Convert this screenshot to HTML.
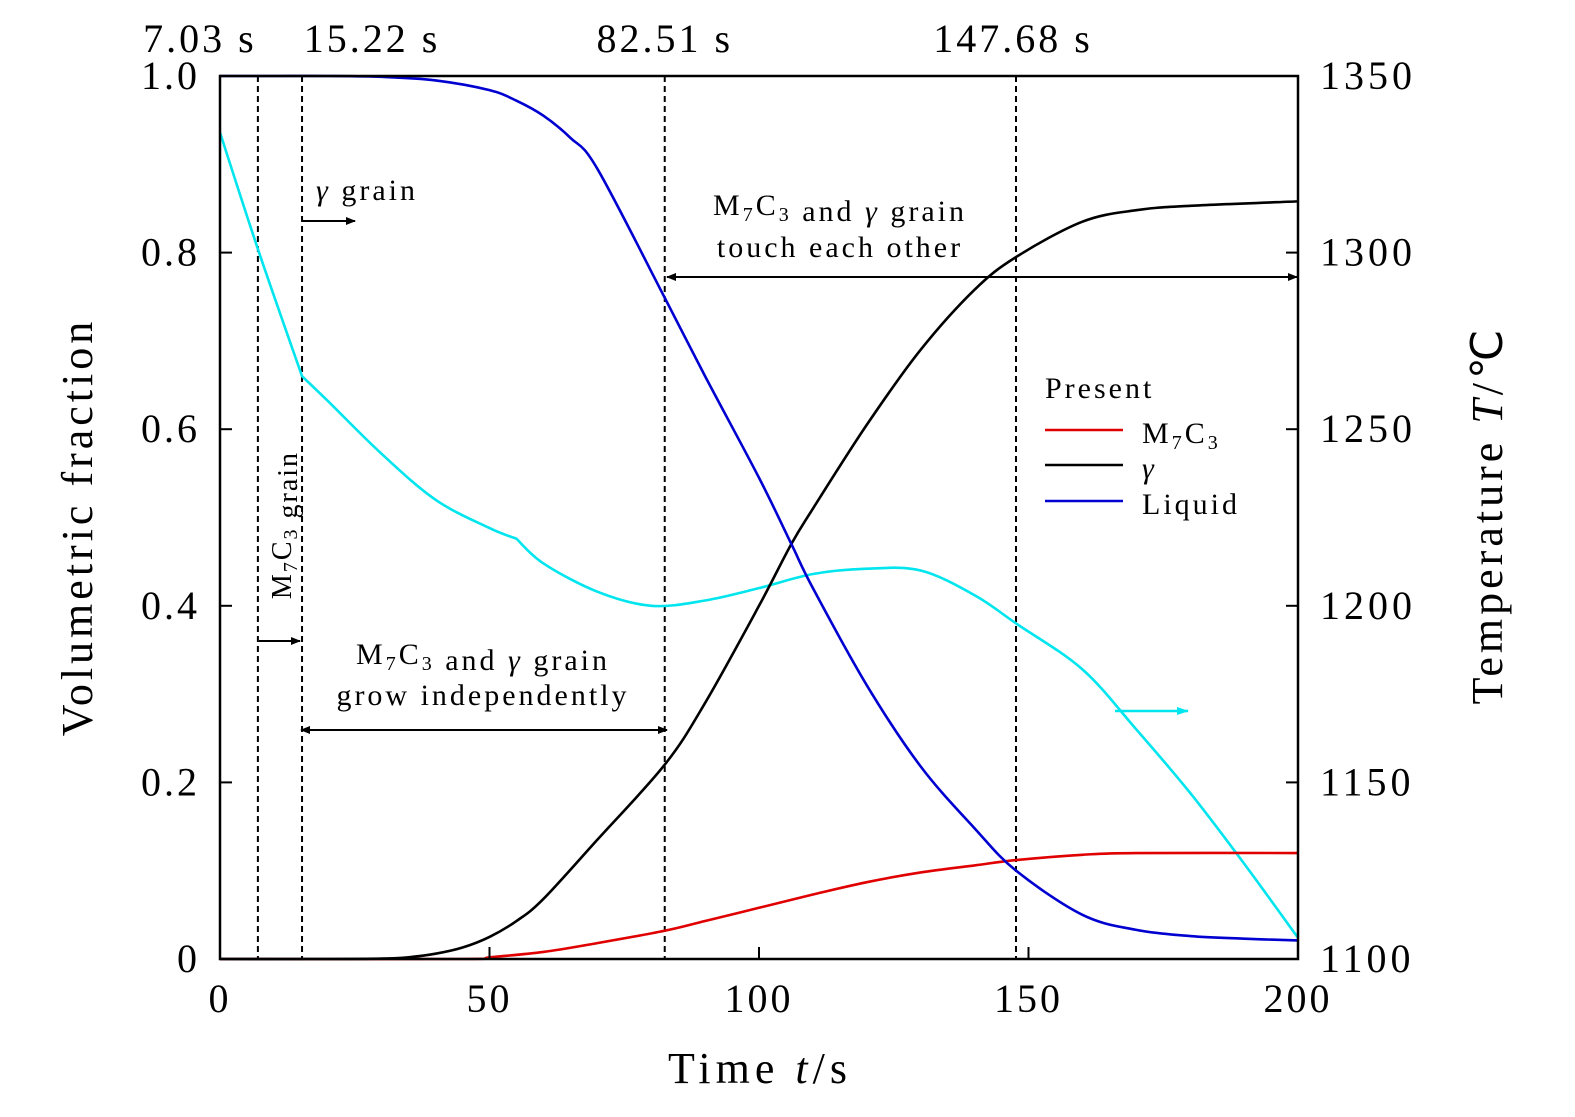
<!DOCTYPE html>
<html><head><meta charset="utf-8"><style>
body{margin:0;background:#fff}
svg text{font-family:"Liberation Serif",serif;fill:#000}
</style></head><body>
<svg id="chart" width="1575" height="1112" viewBox="0 0 1575 1112" xmlns="http://www.w3.org/2000/svg">
<defs>
<marker id="ah" markerWidth="10" markerHeight="8" refX="9" refY="4" orient="auto" markerUnits="userSpaceOnUse"><path d="M0,0 L10,4 L0,8 z" fill="#000"/></marker>
<marker id="ahs" markerWidth="10" markerHeight="8" refX="1" refY="4" orient="auto" markerUnits="userSpaceOnUse"><path d="M10,0 L0,4 L10,8 z" fill="#000"/></marker>
<marker id="ahc" markerWidth="12" markerHeight="8" refX="11" refY="4" orient="auto" markerUnits="userSpaceOnUse"><path d="M0,0 L12,4 L0,8 z" fill="#00e5ee"/></marker>
</defs>
<g id="plot"></g>
</svg>
<script>
const xTicks=[0,50,100,150,200];
const yTicks=[0,0.2,0.4,0.6,0.8,1.0];
const yTickLabels=["0","0.2","0.4","0.6","0.8","1.0"];
const tTicks=[1100,1150,1200,1250,1300,1350];
const eventTimes=[7.03,15.22,82.51,147.68];
const eventLabels=["7.03 s","15.22 s","82.51 s","147.68 s"];
const liqT=[0,10,20,30,40,50,55,60,65,70,82.5,90,100,106,110,120,130,140,147.7,160,170,180,190,200];
const liqV=[1,1,1,0.999,0.995,0.984,0.972,0.955,0.93,0.895,0.749,0.66,0.545,0.47,0.42,0.31,0.218,0.148,0.10,0.05,0.033,0.026,0.023,0.021];
const gamT=[0,20,30,35,40,45,50,55,60,70,82.5,90,100,106,110,120,130,140,147.7,160,170,180,200];
const gamV=[0,0,0.0005,0.002,0.006,0.013,0.025,0.043,0.068,0.135,0.22,0.29,0.40,0.47,0.51,0.605,0.69,0.758,0.795,0.835,0.848,0.853,0.858];
const redT=[0,45,50,60,70,82.5,90,100,110,120,130,140,147.7,160,170,200];
const redV=[0,0,0.002,0.008,0.018,0.032,0.043,0.058,0.073,0.087,0.098,0.106,0.112,0.118,0.12,0.12];
const tmpT=[0,7.03,15.22,20,30,40,50,55,60,70,80,90,100,110,120,130,140,147.7,160,170,180,190,200];
const tmpV=[1334,1301,1265,1258,1243,1230,1222,1219,1212,1204,1200,1201.5,1205,1209,1210.5,1210,1203,1195,1182,1165,1147,1127,1106];
const tmpBreaks=[2,7];

const X0=220,X1=1298,Y0=959,Y1=76;
const sx=t=>X0+(X1-X0)*t/200;
const sy=v=>Y0-(Y0-Y1)*v;
const sT=T=>Y0-(Y0-Y1)*(T-1100)/250;
const NS="http://www.w3.org/2000/svg";
const g=document.getElementById('plot');
function mk(tag,attrs,txt){const e=document.createElementNS(NS,tag);for(const k in attrs)e.setAttribute(k,attrs[k]);if(txt!==undefined)e.textContent=txt;g.appendChild(e);return e;}

function smoothSeg(pts,first){let d=first?`M${pts[0][0]},${pts[0][1]}`:'';for(let i=0;i<pts.length-1;i++){const p0=pts[Math.max(i-1,0)],p1=pts[i],p2=pts[i+1],p3=pts[Math.min(i+2,pts.length-1)];const c1=[p1[0]+(p2[0]-p0[0])/6,p1[1]+(p2[1]-p0[1])/6],c2=[p2[0]-(p3[0]-p1[0])/6,p2[1]-(p3[1]-p1[1])/6];d+=` C${c1[0]},${c1[1]} ${c2[0]},${c2[1]} ${p2[0]},${p2[1]}`;}return d;}
function smooth(pts,breaks){breaks=breaks||[];const idx=[0,...breaks,pts.length-1];let d='';for(let k=0;k<idx.length-1;k++){d+=smoothSeg(pts.slice(idx[k],idx[k+1]+1),k===0);}return d;}

eventTimes.forEach((t,i)=>{
 const l=mk('line',{x1:sx(t),x2:sx(t),y1:Y1,y2:Y0,stroke:'#000','stroke-width':2,'stroke-dasharray':'6,4'});
 
 
});
const evx=[sx(7.03)-58,sx(15.22)+70,sx(82.51),sx(147.68)-3];
eventLabels.forEach((s,i)=>{
 const e=mk('text',{x:evx[i],y:52,'font-size':40,'text-anchor':'middle','letter-spacing':3},s);
 
 
});

const series=[[tmpT,tmpV,'#00e5ee',sT,'temperature-line',tmpBreaks],[redT,redV,'#e00000',sy,'m7c3-line'],[gamT,gamV,'#000',sy,'gamma-line'],[liqT,liqV,'#0000d0',sy,'liquid-line']];
series.forEach(([ts,vs,c,f,n,br])=>{
 const pts=ts.map((t,i)=>[sx(t),f(vs[i])]);
 const p=mk('path',{d:smooth(pts,br),fill:'none',stroke:c,'stroke-width':2.6});
 
 
});

const fr=mk('rect',{x:X0,y:Y1,width:X1-X0,height:Y0-Y1,fill:'none',stroke:'#000','stroke-width':2.5});



xTicks.forEach(t=>{
 mk('line',{x1:sx(t),x2:sx(t),y1:Y0,y2:Y0-12,stroke:'#000','stroke-width':2});
 const e=mk('text',{x:sx(t),y:1012,'font-size':40,'text-anchor':'middle','letter-spacing':3},String(t));
 
 
});
yTicks.forEach((v,i)=>{
 mk('line',{x1:X0,x2:X0+12,y1:sy(v),y2:sy(v),stroke:'#000','stroke-width':2});
 const e=mk('text',{x:200,y:sy(v)+13,'font-size':40,'text-anchor':'end','letter-spacing':3},yTickLabels[i]);
 
 
});
tTicks.forEach(T=>{
 mk('line',{x1:X1,x2:X1-12,y1:sT(T),y2:sT(T),stroke:'#000','stroke-width':2});
 const e=mk('text',{x:1320,y:sT(T)+13,'font-size':40,'letter-spacing':4},String(T));
 
 
});

let e;
e=mk('text',{x:760,y:1083,'font-size':44,'text-anchor':'middle','letter-spacing':5});e.innerHTML='Time <tspan font-style="italic">t</tspan>/s';

e=mk('text',{x:0,y:0,'font-size':44,'text-anchor':'middle','letter-spacing':4,transform:'translate(92,527) rotate(-90)'},'Volumetric fraction');

e=mk('text',{x:0,y:0,'font-size':44,'text-anchor':'middle','letter-spacing':4,transform:'translate(1502,515) rotate(-90)'});e.innerHTML='Temperature  <tspan font-style="italic">T</tspan>/℃';


function ann(x,y,html,n,anchor){const t=mk('text',{x:x,y:y,'font-size':30,'text-anchor':anchor||'start','letter-spacing':'3'});t.innerHTML=html;return t;}
const M='M<tspan font-size="20" dy="6">7</tspan><tspan dy="-6">C</tspan><tspan font-size="20" dy="6">3</tspan><tspan dy="-6"></tspan>';
ann(316,200,'<tspan font-style="italic">γ</tspan> grain','gamma-grain-note');
mk('line',{x1:303,y1:221,x2:355,y2:221,stroke:'#000','stroke-width':2,'marker-end':'url(#ah)'});
ann(840,215,M+' and <tspan font-style="italic">γ</tspan> grain','touch-note-1','middle');
ann(840,257,'touch each other','touch-note-2','middle');
mk('line',{x1:667,y1:277,x2:1297,y2:277,stroke:'#000','stroke-width':2,'marker-end':'url(#ah)','marker-start':'url(#ahs)'});
ann(483,664,M+' and <tspan font-style="italic">γ</tspan> grain','grow-note-1','middle');
ann(483,705,'grow independently','grow-note-2','middle');
mk('line',{x1:301,y1:730,x2:667,y2:730,stroke:'#000','stroke-width':2,'marker-end':'url(#ah)','marker-start':'url(#ahs)'});
e=mk('text',{x:0,y:0,'font-size':28,'text-anchor':'middle','letter-spacing':2,transform:'translate(291,525) rotate(-90)'});e.innerHTML=M+' grain';

mk('line',{x1:259,y1:641,x2:300,y2:641,stroke:'#000','stroke-width':2,'marker-end':'url(#ah)'});
mk('line',{x1:1115,y1:711,x2:1188,y2:711,stroke:'#00e5ee','stroke-width':2.5,'marker-end':'url(#ahc)'});

ann(1045,398,'Present','legend-title');
[['#e00000',M,433,'legend-m7c3'],['#000','<tspan font-style="italic">γ</tspan>',468,'legend-gamma'],['#0000d0','Liquid',504,'legend-liquid']].forEach(([c,h,y,n])=>{
 mk('line',{x1:1045,x2:1123,y1:y-3,y2:y-3,stroke:c,'stroke-width':2.5});
 ann(1142,y+10,h,n);
});
</script>
</body></html>
